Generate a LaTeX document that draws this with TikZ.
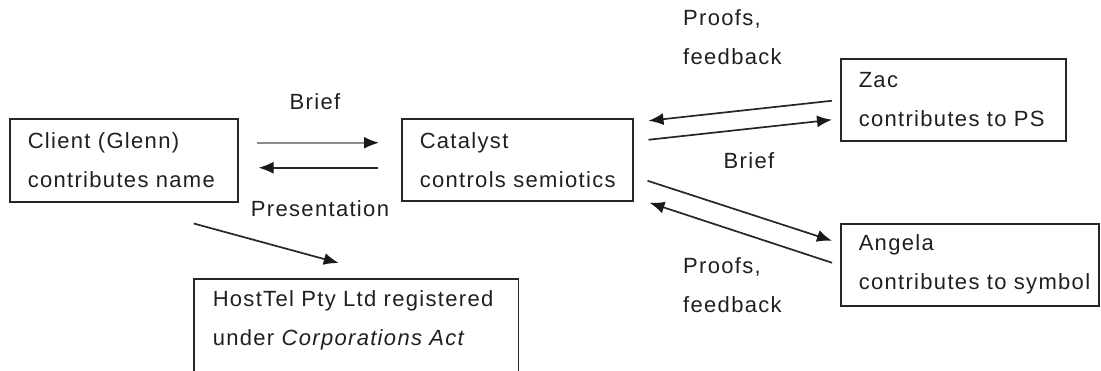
\documentclass[tikz,border=0pt]{standalone}
\usepackage{fontspec}
\setmainfont{Liberation Sans}[LetterSpace=6]
\usetikzlibrary{arrows.meta,calc}
\begin{document}
\begin{tikzpicture}[x=1pt,y=-1pt,
  every node/.style={font=\fontsize{22}{39}\selectfont, text=black!88},
  box/.style={draw=black!85, line width=1.5pt, inner xsep=18pt, inner ysep=0pt,
              align=left, anchor=north west, minimum height=82pt},
  lbl/.style={inner sep=0pt, align=left},
  conn/.style={draw=black!85, line width=1.7pt, -{Latex[length=15pt,width=12pt,color=black!90]}},
  boxline/.style={draw=black!85, line width=1.5pt},
]
\useasboundingbox (0,0) rectangle (1101,370);
\clip (0,0) rectangle (1101,370);

% participants
\node[box, text width=192pt, minimum height=83pt] (client) at (9,118)
  {\mbox{Client (Glenn)}\\\mbox{contributes name}};
\node[box, text width=195pt] (catalyst) at (401,118)
  {\mbox{Catalyst}\\\mbox{controls semiotics}};
\node[box, text width=189pt] (zac) at (840,58)
  {\mbox{Zac}\\\mbox{contributes to PS}};
\node[box, text width=222pt] (angela) at (840,223)
  {\mbox{Angela}\\\mbox{contributes to symbol}};
\node[box, draw=none, text width=287pt] (host) at (194,279)
  {\mbox{HostTel Pty Ltd registered}\\\mbox{under \textit{Corporations Act}}};
\draw[boxline] ([yshift=-30pt]host.south west) -- (host.north west)
  -- (host.north east) -- ([yshift=-30pt]host.south east);

% labels
\node[lbl, anchor=base] (brief1) at (315,109) {Brief};
\node[lbl, anchor=base] (pres) at (320,216) {Presentation};
\node[lbl, anchor=north west] (pf1) at (683,9) {Proofs,\\feedback};
\node[lbl, anchor=base] (brief2) at (749,168) {Brief};
\node[lbl, anchor=north west] (pf2) at (683,257) {Proofs,\\feedback};

% exchanges
\draw[conn, draw=black!45] ([shift={(18,-17.5)}]client.east) -- ([shift={(-22,-17)}]catalyst.west);
\draw[conn] ([shift={(-23,8)}]catalyst.west) -- ([shift={(20,7.5)}]client.east);
\draw[conn] ([shift={(-8,1)}]zac.west) -- ([shift={(15,-39)}]catalyst.east);
\draw[conn] ([shift={(15,-20)}]catalyst.east) -- ([shift={(-8,20)}]zac.west);
\draw[conn] ([shift={(14,21)}]catalyst.east) -- ([shift={(-8,-24)}]angela.west);
\draw[conn] ([shift={(-8,-2)}]angela.west) -- ([shift={(16,43)}]catalyst.east);
\draw[conn] ([shift={(70,21)}]client.south) -- ([shift={(-17.5,-16)}]host.north);
\end{tikzpicture}
\end{document}
